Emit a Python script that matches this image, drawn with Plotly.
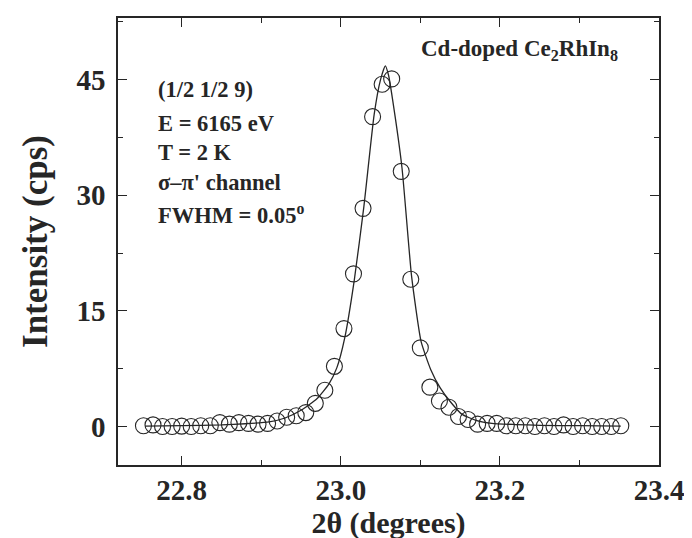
import plotly.graph_objects as go

# Measured data points (2theta in degrees, intensity in cps)
two_theta = [22.752, 22.764, 22.776, 22.788, 22.800, 22.812, 22.824, 22.836, 22.848, 22.860,
             22.872, 22.884, 22.896, 22.908, 22.920, 22.932, 22.944, 22.956, 22.968, 22.980,
             22.992, 23.004, 23.016, 23.028, 23.040, 23.052, 23.064, 23.076, 23.088, 23.100,
             23.112, 23.124, 23.136, 23.148, 23.160, 23.172, 23.184, 23.196, 23.208, 23.220,
             23.232, 23.244, 23.256, 23.268, 23.280, 23.292, 23.304, 23.316, 23.328, 23.340,
             23.352]
intensity = [0.1, 0.2, 0.0, 0.0, 0.05, 0.0, 0.1, 0.1, 0.5, 0.3,
             0.5, 0.4, 0.3, 0.4, 0.7, 1.2, 1.4, 1.8, 3.0, 4.7,
             7.8, 12.7, 19.8, 28.3, 40.2, 44.4, 45.1, 33.1, 19.1, 10.2,
             5.1, 3.3, 2.5, 1.3, 0.9, 0.3, 0.4, 0.4, 0.1, 0.1,
             0.1, 0.0, 0.1, 0.0, 0.2, 0.0, 0.1, 0.0, 0.0, 0.0,
             0.1]

# Fitted curve
fit_x = [22.754, 22.80, 22.85, 22.88, 22.91, 22.93, 22.95, 22.97, 22.985, 22.995,
         23.005, 23.017, 23.029, 23.042, 23.050, 23.056, 23.060, 23.065, 23.077, 23.089,
         23.101, 23.113, 23.125, 23.137, 23.152, 23.170, 23.190, 23.22, 23.25, 23.30,
         23.352]
fit_y = [0.05, 0.1, 0.2, 0.35, 0.6, 1.1, 2.1, 3.6, 5.5, 7.6,
         11.5, 19.0, 28.5, 40.5, 45.0, 46.8, 45.6, 42.5, 33.5, 19.5,
         11.0, 7.4, 5.0, 3.3, 1.6, 0.8, 0.4, 0.25, 0.15, 0.1,
         0.05]

x_ticks = [22.8, 23.0, 23.2, 23.4]
y_ticks = [0, 15, 30, 45]

info_lines = ["(1/2 1/2 9)", "E = 6165 eV", "T = 2 K", "σ\u2013π' channel",
              "FWHM = 0.05<sup>o</sup>"]
sample_label = "Cd-doped Ce<sub>2</sub>RhIn<sub>8</sub>"

FONT = "Liberation Serif, Times New Roman, serif"
INK = "#262626"

fig = go.Figure()
fig.add_trace(go.Scatter(x=fit_x, y=fit_y, mode="lines",
                         line=dict(color=INK, width=1.3, shape="spline", smoothing=0.5),
                         showlegend=False, hoverinfo="skip"))
fig.add_trace(go.Scatter(x=two_theta, y=intensity, mode="markers",
                         marker=dict(symbol="circle-open", size=16, color=INK,
                                     line=dict(width=1.1, color=INK)),
                         showlegend=False))

L, R, T, B = 110, 41, 8, 81
W, H = 692, 538
pw, ph = W - L - R, H - T - B

def px_x(x):
    return (x - L) / pw

def px_y(y):
    return (H - B - y) / ph

line_y = [80, 114, 143, 173, 205]
for txt, yy in zip(info_lines, line_y):
    fig.add_annotation(text=txt, xref="paper", yref="paper", x=px_x(148), y=px_y(yy),
                       xanchor="left", yanchor="middle", showarrow=False,
                       font=dict(family=FONT, size=22.5, color=INK, weight="bold"))

fig.add_annotation(text=sample_label, xref="paper", yref="paper", x=px_x(612), y=px_y(40),
                   xanchor="right", yanchor="middle", showarrow=False,
                   font=dict(family=FONT, size=23, color=INK, weight="bold"))

axis_common = dict(showline=True, linecolor=INK, linewidth=1.5, mirror="allticks",
                   ticks="inside", ticklen=9, tickwidth=1.3, tickcolor=INK,
                   showgrid=False, zeroline=False,
                   tickfont=dict(family=FONT, size=29, color=INK, weight="bold"))

fig.update_layout(
    width=W, height=H,
    margin=dict(l=L, r=R, t=T, b=B),
    plot_bgcolor="white", paper_bgcolor="white",
    xaxis=dict(range=[22.72, 23.40], tickvals=x_ticks,
               ticktext=[f"{v:.1f}" for v in x_ticks],
               minor=dict(dtick=0.1, ticklen=5, tickcolor=INK, ticks="inside"),
               ticklabelstandoff=-2,
               title=dict(text="2θ (degrees)", standoff=6,
                          font=dict(family=FONT, size=30, color=INK, weight="bold")),
               **axis_common),
    yaxis=dict(range=[-5, 53], tickvals=y_ticks,
               minor=dict(dtick=7.5, tick0=0, ticklen=5, tickcolor=INK, ticks="inside"),
               ticklabelstandoff=5,
               title=dict(text="Intensity (cps)", standoff=18,
                          font=dict(family=FONT, size=35, color=INK, weight="bold")),
               **axis_common),
)

fig.write_html("out.html")
